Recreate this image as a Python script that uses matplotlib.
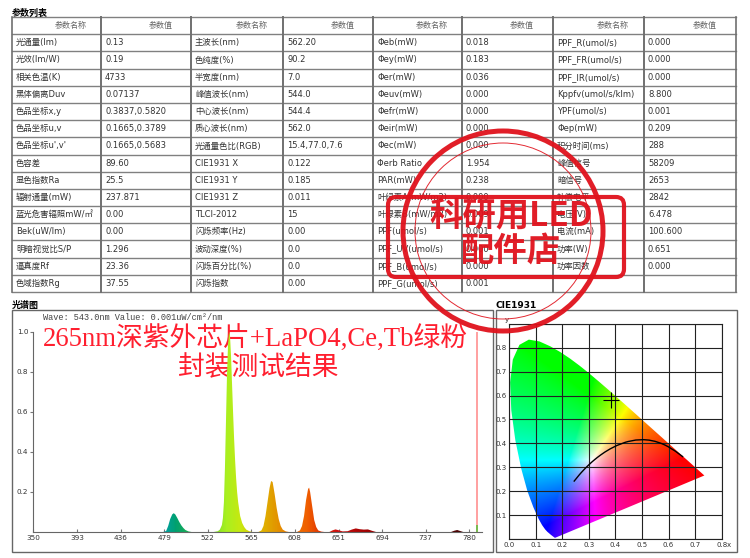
import numpy as np
import matplotlib
matplotlib.use("Agg")
import matplotlib.pyplot as plt
from matplotlib.patches import Polygon, Rectangle, Circle, FancyBboxPatch
from matplotlib.colors import LinearSegmentedColormap

W, H = 750, 558

# ---------------- table data ----------------
header = ["参数名称", "参数值"] * 4
names1 = ["光通量(lm)", "光效(lm/W)", "相关色温(K)", "黑体偏离Duv", "色品坐标x,y",
          "色品坐标u,v", "色品坐标u',v'", "色容差", "显色指数Ra", "辐射通量(mW)",
          "蓝光危害辐照mW/㎡", "Bek(uW/lm)", "明暗视觉比S/P", "逼真度Rf", "色域指数Rg"]
vals1 = ["0.13", "0.19", "4733", "0.07137", "0.3837,0.5820", "0.1665,0.3789",
         "0.1665,0.5683", "89.60", "25.5", "237.871", "0.00", "0.00", "1.296",
         "23.36", "37.55"]
names2 = ["主波长(nm)", "色纯度(%)", "半宽度(nm)", "峰值波长(nm)", "中心波长(nm)",
          "质心波长(nm)", "光通量色比(RGB)", "CIE1931 X", "CIE1931 Y", "CIE1931 Z",
          "TLCI-2012", "闪烁频率(Hz)", "波动深度(%)", "闪烁百分比(%)", "闪烁指数"]
vals2 = ["562.20", "90.2", "7.0", "544.0", "544.4", "562.0", "15.4,77.0,7.6",
         "0.122", "0.185", "0.011", "15", "0.00", "0.0", "0.0", "0.00"]
names3 = ["Φeb(mW)", "Φey(mW)", "Φer(mW)", "Φeuv(mW)", "Φefr(mW)", "Φeir(mW)",
          "Φec(mW)", "Φerb Ratio", "PAR(mW)", "叶绿素A(mW/m2)", "叶绿素B(mW/m2)",
          "PPF(umol/s)", "PPF_UV(umol/s)", "PPF_B(umol/s)", "PPF_G(umol/s)"]
vals3 = ["0.018", "0.183", "0.036", "0.000", "0.000", "0.000", "0.000", "1.954",
         "0.238", "0.000", "0.009", "0.001", "0.000", "0.000", "0.001"]
names4 = ["PPF_R(umol/s)", "PPF_FR(umol/s)", "PPF_IR(umol/s)", "Kppfv(umol/s/klm)",
          "YPF(umol/s)", "Φep(mW)", "积分时间(ms)", "峰值信号", "暗信号", "补偿电平",
          "电压(V)", "电流(mA)", "功率(W)", "功率因数", ""]
vals4 = ["0.000", "0.000", "0.000", "8.800", "0.001", "0.209", "288", "58209",
         "2653", "2842", "6.478", "100.600", "0.651", "0.000", ""]

# ---------------- spectrum data ----------------
spec_nm = [350, 478, 481, 483, 485, 487, 488.5, 490, 492, 494, 496, 498, 500, 503, 506,
           528, 532, 534, 536, 537, 538, 539, 540, 541, 542, 543, 544, 545, 546, 547,
           548, 549, 550, 551, 552, 554, 556, 558, 560, 563, 566,
           572, 575, 577, 579, 581, 583, 584.5, 586, 588, 590, 592, 594, 596, 599, 602,
           610, 613, 615, 617, 619, 621, 622, 623, 625, 627, 629, 631, 634, 637,
           642, 645, 648, 651, 655, 660, 664, 668, 672, 676, 680, 684, 688,
           762, 765, 768, 771, 774, 792]
spec_val = [0, 0, 0.005, 0.03, 0.065, 0.088, 0.094, 0.088, 0.07, 0.05, 0.033, 0.02, 0.01, 0.003, 0,
            0, 0.004, 0.012, 0.035, 0.07, 0.15, 0.32, 0.55, 0.78, 0.93, 1.0, 0.98, 0.88, 0.74, 0.60,
            0.47, 0.36, 0.27, 0.20, 0.15, 0.08, 0.045, 0.025, 0.012, 0.004, 0,
            0, 0.008, 0.03, 0.08, 0.15, 0.22, 0.255, 0.25, 0.19, 0.12, 0.065, 0.03, 0.012, 0.003, 0,
            0, 0.008, 0.03, 0.08, 0.16, 0.215, 0.222, 0.20, 0.13, 0.06, 0.025, 0.008, 0.002, 0,
            0, 0.008, 0.013, 0.009, 0.003, 0.004, 0.012, 0.018, 0.014, 0.012, 0.013, 0.006, 0,
            0, 0.006, 0.01, 0.005, 0, 0]
x_ticks = [350, 393, 436, 479, 522, 565, 608, 651, 694, 737, 780]
y_ticks = [0.2, 0.4, 0.6, 0.8, 1.0]
cursor_nm = 787.5

# ---------------- CIE 1931 data ----------------
locus_x = [0.1741, 0.1733, 0.1714, 0.1644, 0.1566, 0.1440, 0.1355, 0.1241, 0.1096, 0.0913,
           0.0687, 0.0454, 0.0235, 0.0082, 0.0039, 0.0139, 0.0389, 0.0743, 0.1142, 0.1547,
           0.1929, 0.2296, 0.2658, 0.3016, 0.3373, 0.3731, 0.4087, 0.4441, 0.4788, 0.5125,
           0.5448, 0.5752, 0.6029, 0.6270, 0.6658, 0.6915, 0.7079, 0.7190, 0.7260, 0.7334, 0.7347]
locus_y = [0.0050, 0.0048, 0.0051, 0.0109, 0.0177, 0.0297, 0.0399, 0.0578, 0.0868, 0.1327,
           0.2007, 0.2950, 0.4127, 0.5384, 0.6548, 0.7502, 0.8120, 0.8338, 0.8262, 0.8059,
           0.7816, 0.7543, 0.7243, 0.6923, 0.6589, 0.6245, 0.5896, 0.5547, 0.5202, 0.4866,
           0.4544, 0.4242, 0.3965, 0.3725, 0.3340, 0.3083, 0.2920, 0.2809, 0.2740, 0.2666, 0.2653]
planck_x = [0.6528, 0.6251, 0.5985, 0.5857, 0.5732, 0.5492, 0.5267, 0.5056, 0.4770, 0.4476,
            0.4369, 0.4053, 0.3805, 0.3608, 0.3451, 0.3325, 0.3221, 0.3135, 0.3064, 0.2952,
            0.2869, 0.2807, 0.2718, 0.2637, 0.2565, 0.2501, 0.2450]
planck_y = [0.3444, 0.3674, 0.3858, 0.3931, 0.3993, 0.4082, 0.4133, 0.4152, 0.4137, 0.4074,
            0.4041, 0.3907, 0.3768, 0.3636, 0.3516, 0.3411, 0.3318, 0.3237, 0.3166, 0.3048,
            0.2956, 0.2884, 0.2778, 0.2675, 0.2577, 0.2489, 0.2420]
point_x, point_y = 0.3837, 0.5820
cie_ticks = [0.0, 0.1, 0.2, 0.3, 0.4, 0.5, 0.6, 0.7, 0.8]

TXT = ['DejaVu Sans', 'Noto Sans CJK SC']


def frame(l, t, r, b):
    return [l / W, 1 - b / H, (r - l) / W, (b - t) / H]


fig = plt.figure(figsize=(7.5, 5.58), dpi=100)

# ---------- base layer in pixel coordinates ----------
ax0 = fig.add_axes([0, 0, 1, 1])
ax0.set_xlim(0, W)
ax0.set_ylim(H, 0)
ax0.axis('off')

ax0.text(12, 13, "参数列表", fontsize=6.5, fontweight='bold', family=TXT, va='center')

col_x = [12, 101, 191, 283, 373, 462, 553, 644, 736]
t_top, t_bot = 17, 292
n_rows = 16
row_h = (t_bot - t_top) / n_rows
for i in range(n_rows + 1):
    y = t_top + i * row_h
    ax0.plot([col_x[0], col_x[-1]], [y, y], color='#808080', lw=1.0)
for i, cx in enumerate(col_x):
    ax0.plot([cx, cx], [t_top, t_bot], color='#707070', lw=1.4 if 0 < i < 8 else 1.2)

for j, h in enumerate(header):
    l, r = col_x[j], col_x[j + 1]
    ax0.text(l + 0.66 * (r - l), t_top + row_h / 2, h, fontsize=5.8, color='#666666',
             family=TXT, ha='center', va='center')

columns = [names1, vals1, names2, vals2, names3, vals3, names4, vals4]
for j, col in enumerate(columns):
    for i, s in enumerate(col):
        ax0.text(col_x[j] + 4, t_top + (i + 1.5) * row_h, s, fontsize=6, color='#333333',
                 family=TXT, ha='left', va='center')

# panel boxes and labels
ax0.add_patch(Rectangle((12, 310), 481, 242, fill=False, ec='#666666', lw=1.0))
ax0.add_patch(Rectangle((496, 310), 241, 242, fill=False, ec='#666666', lw=1.0))
ax0.text(12, 305, "光谱图", fontsize=6.5, fontweight='bold', family=TXT, va='center')
ax0.text(495, 305, "CIE1931", fontsize=6.5, fontweight='bold', family=TXT, va='center')
ax0.text(43, 317, "Wave: 543.0nm Value: 0.001uW/cm²/nm", fontsize=6.2, color='#444444',
         family=['Liberation Mono', 'DejaVu Sans Mono'], va='center')
ax0.text(43, 339, "265nm深紫外芯片+LaPO4,Ce,Tb绿粉", fontsize=19.3, color='#ff1f2f',
         family=['Liberation Serif', 'Noto Sans CJK SC'], va='center', ha='left')
ax0.text(258, 368, "封装测试结果", fontsize=19.3, color='#ff1f2f',
         family=['Liberation Serif', 'Noto Sans CJK SC'], va='center', ha='center')

# ---------- spectrum ----------
xmax = 350 + (482 - 33.3) / 1.014
axs = fig.add_axes(frame(33.3, 332, 482, 532))
axs.set_facecolor('none')
axs.set_xlim(350, xmax)
axs.set_ylim(0, 1.0)

stops = [(350, '#5020a0'), (430, '#3050d0'), (460, '#2080d0'), (480, '#00a0a0'),
         (490, '#00a070'), (505, '#20b050'), (520, '#60d030'), (540, '#a8f020'),
         (555, '#c8e810'), (570, '#e0c000'), (585, '#e0a000'), (600, '#e88000'),
         (620, '#f06000'), (635, '#e03000'), (650, '#d01010'), (680, '#a00000'),
         (780, '#400000'), (xmax, '#300000')]
cmap = LinearSegmentedColormap.from_list(
    'spec', [((w - 350) / (xmax - 350), c) for w, c in stops])
grad = np.linspace(0, 1, 600)[None, :]
im = axs.imshow(grad, extent=[350, xmax, 0, 1.0], aspect='auto', cmap=cmap,
                origin='lower', zorder=2)
verts = list(zip(spec_nm, spec_val))
poly = Polygon(verts, closed=True, fc='none', ec='none')
axs.add_patch(poly)
im.set_clip_path(poly)

axs.vlines(cursor_nm, 0, 1.0, color='#ff9090', lw=1.2, zorder=3)
axs.vlines(cursor_nm, 0, 0.035, color='#60c040', lw=1.2, zorder=4)

axs.set_xticks(x_ticks)
axs.set_xticklabels([str(v) for v in x_ticks])
axs.set_yticks(y_ticks)
axs.set_yticklabels(["%.1f" % v for v in y_ticks])
for sp in ['top', 'right']:
    axs.spines[sp].set_visible(False)
for sp in ['left', 'bottom']:
    axs.spines[sp].set_color('#666666')
    axs.spines[sp].set_linewidth(0.8)
axs.tick_params(axis='x', direction='in', length=2.5, color='#777777', pad=2.5,
                labelsize=5.2, labelcolor='#333333')
axs.tick_params(axis='y', direction='out', length=2.5, color='#777777', pad=1,
                labelsize=5.2, labelcolor='#333333')

# ---------- CIE 1931 ----------
axc = fig.add_axes(frame(509.1, 323.8, 721.7, 538.9))
axc.set_xlim(0, 0.8)
axc.set_ylim(0, 0.9)

gx = np.linspace(0, 0.8, 320)
gy = np.linspace(0.002, 0.9, 360)
GX, GY = np.meshgrid(gx, gy)
XYZ = np.stack([GX / GY, np.ones_like(GX), (1 - GX - GY) / GY])
M = np.array([[3.2406, -1.5372, -0.4986],
              [-0.9689, 1.8758, 0.0415],
              [0.0557, -0.2040, 1.0570]])
rgb = np.einsum('ij,jkl->kli', M, XYZ)
rgb = np.clip(rgb, 0, None)
rgb = rgb / (rgb.max(axis=2, keepdims=True) + 1e-9)
rgb = rgb ** (1 / 1.3)
cim = axc.imshow(rgb, extent=[0, 0.8, 0.002, 0.9], origin='lower', aspect='auto', zorder=0)
shoe = Polygon(list(zip(locus_x, locus_y)), closed=True, fc='none', ec='none')
axc.add_patch(shoe)
cim.set_clip_path(shoe)

axc.set_xticks(cie_ticks)
axc.set_xticklabels(["%.1f" % v for v in cie_ticks])
axc.set_yticks(cie_ticks + [0.9])
axc.set_yticklabels([""] + ["%.1f" % v for v in cie_ticks[1:]] + [""])
axc.grid(True, color='#222222', lw=0.8)
axc.set_axisbelow(False)
for sp in axc.spines.values():
    sp.set_color('#222222')
    sp.set_linewidth(0.8)
axc.tick_params(length=0, labelsize=5, labelcolor='#333333', pad=2)
axc.plot(planck_x, planck_y, color='black', lw=1.0, zorder=3)
axc.plot([point_x], [point_y], marker='+', ms=11, mew=0.8, color='black', zorder=4)
ax0.text(727, 545, "x", fontsize=5, color='#333333', va='center')
ax0.text(507, 320, "y", fontsize=5, color='#333333', va='center', ha='center')

# ---------- stamp on top ----------
ax_st = fig.add_axes([0, 0, 1, 1], zorder=10)
ax_st.set_xlim(0, W)
ax_st.set_ylim(H, 0)
ax_st.axis('off')
ax_st.patch.set_alpha(0)
red = '#e0121c'
ax_st.add_patch(Circle((503, 231), 100, fill=False, ec=red, lw=3.6, alpha=0.95))
ax_st.add_patch(Circle((503, 231), 88, fill=False, ec=red, lw=0.7, alpha=0.9))
ax_st.add_patch(FancyBboxPatch((388, 197), 236, 80, boxstyle='round,pad=0,rounding_size=8',
                               fill=False, ec=red, lw=3.0, alpha=0.95))
ax_st.text(511, 216, "科研用LED", fontsize=24, fontweight='bold', color=red,
           family=['Noto Sans CJK SC'], ha='center', va='center', alpha=0.95)
ax_st.text(511, 251, "配件店", fontsize=24, fontweight='bold', color=red,
           family=['Noto Sans CJK SC'], ha='center', va='center', alpha=0.95)

fig.savefig("out.png", dpi=100)
